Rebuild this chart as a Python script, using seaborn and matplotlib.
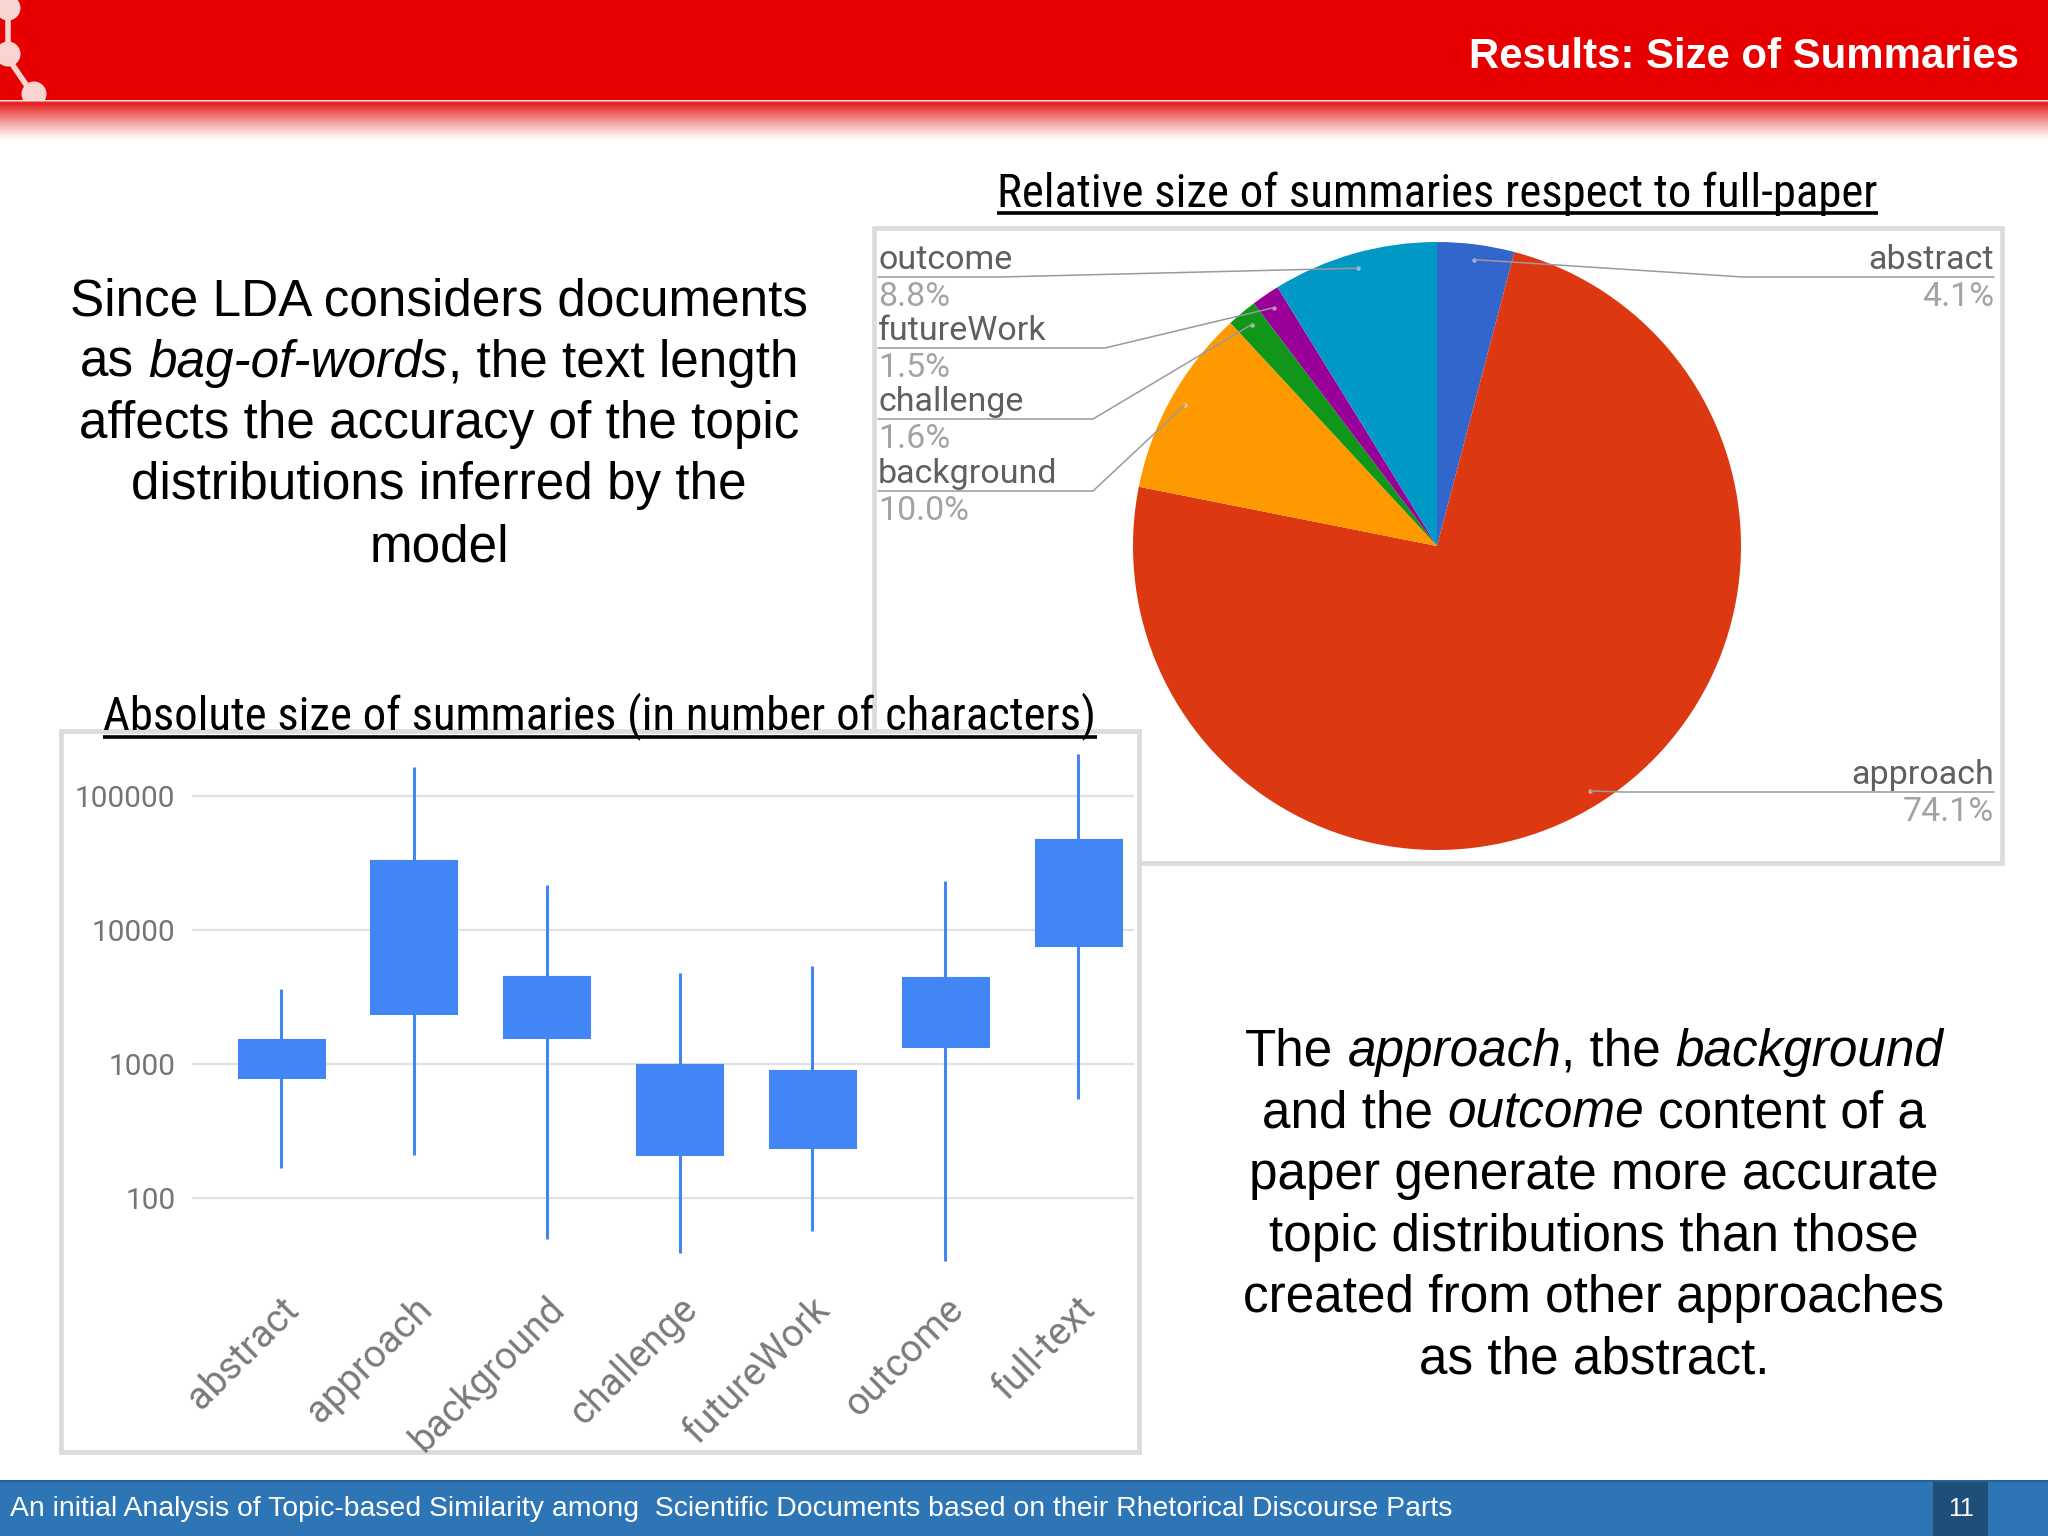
import numpy as np
import pandas as pd
import matplotlib
matplotlib.use("Agg")
import matplotlib.pyplot as plt
import seaborn as sns
from matplotlib import font_manager as fm
from matplotlib.patches import Rectangle, Circle
from matplotlib.ticker import NullLocator
from matplotlib.transforms import ScaledTranslation

# ---------------- data ----------------
box_categories = ["abstract", "approach", "background", "challenge", "futureWork", "outcome", "full-text"]
box_low = [166, 209, 49, 39, 57, 34, 543]
box_lower = [796, 2400, 1600, 212, 238, 1370, 7740]
box_upper = [1520, 32500, 4450, 981, 891, 4360, 47100]
box_high = [3630, 165000, 21500, 4760, 5420, 23100, 207000]
y_tick_values = [100, 1000, 10000, 100000]
y_tick_labels = ["100", "1000", "10000", "100000"]

pie_labels = ["abstract", "approach", "background", "challenge", "futureWork", "outcome"]
pie_values = [4.1, 74.1, 10.0, 1.6, 1.5, 8.8]
pie_pct_labels = ["4.1%", "74.1%", "10.0%", "1.6%", "1.5%", "8.8%"]
pie_colors = ["#3366CC", "#DC3912", "#FF9900", "#109618", "#990099", "#0099C6"]

header_title = "Results: Size of Summaries"
pie_title = "Relative size of summaries respect to full-paper"
box_title = "Absolute size of summaries (in number of characters)"
left_lines = [
    [("Since LDA considers documents", "normal")],
    [("as ", "normal"), ("bag-of-words", "italic"), (", the text length", "normal")],
    [("affects the accuracy of the topic", "normal")],
    [("distributions inferred by the", "normal")],
    [("model", "normal")],
]
right_lines = [
    [("The ", "normal"), ("approach", "italic"), (", the ", "normal"), ("background", "italic")],
    [("and the ", "normal"), ("outcome", "italic"), (" content of a", "normal")],
    [("paper generate more accurate", "normal")],
    [("topic distributions than those", "normal")],
    [("created from other approaches", "normal")],
    [("as the abstract.", "normal")],
]
footer_text = "An initial Analysis of Topic-based Similarity among  Scientific Documents based on their Rhetorical Discourse Parts"
page_number = "11"

# ---------------- setup ----------------
W, H, DPI = 2048, 1536, 100
sns.set_theme(style="white")
plt.rcParams["font.family"] = ["Liberation Sans", "DejaVu Sans"]
avail = {f.name for f in fm.fontManager.ttflist}
NARROW = next((n for n in ["Liberation Sans Narrow", "Arial Narrow", "Roboto Condensed"] if n in avail),
              "Liberation Sans")
BODY = "Liberation Sans"
CHART = "Roboto" if "Roboto" in avail else "Liberation Sans"

fig = plt.figure(figsize=(W / DPI, H / DPI), dpi=DPI)
fig.patch.set_facecolor("white")


def px_axes(l, t, r, b, **kw):
    return fig.add_axes([l / W, 1 - b / H, (r - l) / W, (b - t) / H], **kw)


bg = px_axes(0, 0, W, H, zorder=-5)
bg.set_axis_off()
bg.set_xlim(0, W)
bg.set_ylim(H, 0)
fg = px_axes(0, 0, W, H, zorder=5)
fg.set_axis_off()
fg.set_xlim(0, W)
fg.set_ylim(H, 0)
renderer = fig.canvas.get_renderer()


def text_width(s, **kw):
    t = fg.text(0, 0, "|" + s + "|", **kw)
    w1 = t.get_window_extent(renderer).width
    t.remove()
    t = fg.text(0, 0, "||", **kw)
    w2 = t.get_window_extent(renderer).width
    t.remove()
    return w1 - w2


def fit(s, target, **kw):
    return 30 * target / text_width(s, fontsize=30, **kw)


# ---------------- header ----------------
hdr = Rectangle((0, 0), W, 100, facecolor="#E60000", edgecolor="none", zorder=1)
bg.add_patch(hdr)
grad = np.zeros((80, 1, 4))
grad[..., 0] = 0.90
grad[..., 1] = 0.06
grad[..., 2] = 0.06
grad[:, 0, 3] = np.linspace(1, 0, 80) ** 1.2
bg.imshow(grad, extent=(0, W, 141, 101), aspect="auto", zorder=1, interpolation="bilinear")
bg.plot([0, W], [100.5, 100.5], color="#F47C7C", lw=1.0, zorder=2)
logo_col = "#F8D5D0"
for (cx, cy) in [(8, 8), (8, 54), (34, 94)]:
    c = Circle((cx, cy), 12.5, facecolor=logo_col, edgecolor="none", zorder=3)
    bg.add_patch(c)
    c.set_clip_path(hdr)
bg.plot([8, 8], [18, 44], color=logo_col, lw=4, zorder=3, solid_capstyle="butt")
bg.plot([12, 27], [64, 86], color=logo_col, lw=4, zorder=3, solid_capstyle="butt")
fs = fit(header_title, 552, family=BODY, fontweight="bold")
fg.text(2019, 68, header_title, fontsize=fs, family=BODY, fontweight="bold", color="white",
        ha="right", va="baseline")

# ---------------- footer ----------------
bg.add_patch(Rectangle((0, 1480), W, 56, facecolor="#2E75B6", edgecolor="none", zorder=1))
bg.plot([0, W], [1480.5, 1480.5], color="#235F98", lw=1.2, zorder=2)
bg.add_patch(Rectangle((1933, 1482), 55, 54, facecolor="#1F4E79", edgecolor="none", zorder=2))
fs = fit(footer_text, 1441, family=BODY)
fg.text(10, 1509, footer_text, fontsize=fs, family=BODY, color="white", ha="left", va="center")
fg.text(1961, 1509, page_number, fontsize=18, family=BODY, color="white", ha="center", va="center")

# ---------------- panels ----------------
bg.add_patch(Rectangle((874, 228), 2002 - 874, 863 - 228, facecolor="white", edgecolor="#DCDCDC",
                       lw=3.4, zorder=3))
bg.add_patch(Rectangle((61, 731), 1139 - 61, 1452 - 731, facecolor="white", edgecolor="#DCDCDC",
                       lw=3.4, zorder=4))

# ---------------- titles ----------------
for text, x0, base, target, ul in [(pie_title, 997, 207, 881, 213), (box_title, 103, 729, 994, 737)]:
    fs = fit(text, target, family=NARROW)
    fg.text(x0, base, text, fontsize=fs, family=NARROW, color="black", ha="left", va="baseline")
    fg.plot([x0, x0 + target], [ul, ul], color="black", lw=2.6, solid_capstyle="butt")


# ---------------- body text ----------------
def rich_line(pieces, cx, base, size):
    ws = [text_width(s, fontsize=size, fontstyle=st, family=BODY) for s, st in pieces]
    x = cx - sum(ws) / 2
    for (s, st), w in zip(pieces, ws):
        lead = len(s) - len(s.lstrip(" "))
        xoff = text_width(" " * lead, fontsize=size, fontstyle=st, family=BODY) if lead else 0
        fg.text(x + xoff, base, s.strip(" "), fontsize=size, fontstyle=st, family=BODY,
                color="black", ha="left", va="baseline")
        x += w


body_size = fit("Since LDA considers documents", 737, family=BODY)
for i, pieces in enumerate(left_lines):
    rich_line(pieces, 439, 315 + 61.5 * i, body_size)
for i, pieces in enumerate(right_lines):
    rich_line(pieces, 1594, 1066 + 61.6 * i, body_size)

# ---------------- box (candlestick) chart ----------------
rows = []
for c, lo, q1, q3, hi in zip(box_categories, box_low, box_lower, box_upper, box_high):
    for v in (lo, q1, q3, q3, hi):
        rows.append({"section": c, "chars": v})
box_df = pd.DataFrame(rows)

BLUE = "#4285F4"
axb = px_axes(192, 745, 1134, 1280, zorder=1)
sns.boxplot(data=box_df, x="section", y="chars", order=box_categories, ax=axb, color=BLUE,
            linecolor=BLUE, saturation=1, width=0.64, linewidth=2.2, whis=(0, 100),
            showcaps=False, showfliers=False, log_scale=True)
axb.set_facecolor("none")
axb.set_ylim(24.4, 240000)
axb.set_xlim(-0.67, 6.42)
axb.set_yticks(y_tick_values, y_tick_labels)
axb.yaxis.set_minor_locator(NullLocator())
axb.grid(axis="y", color="#E2E2E2", linewidth=1.6)
axb.grid(axis="x", visible=False)
axb.set_axisbelow(True)
for s in axb.spines.values():
    s.set_visible(False)
axb.set_xlabel("")
axb.set_ylabel("")
axb.tick_params(axis="y", length=0, pad=12, labelsize=21.5, labelcolor="#757575", labelfontfamily=CHART)
axb.tick_params(axis="x", length=0, pad=17, labelsize=27.5, labelcolor="#7A7A7A", labelfontfamily=CHART)
axb.set_xticks(range(len(box_categories)), box_categories, rotation=45, ha="right", va="center",
               rotation_mode="anchor")
off = ScaledTranslation(12 / DPI, 0, fig.dpi_scale_trans)
for lbl in axb.get_xticklabels():
    lbl.set_transform(lbl.get_transform() + off)

# ---------------- pie chart ----------------
PCX, PCY, PR = 1437, 546, 304
axp = px_axes(PCX - PR, PCY - PR, PCX + PR, PCY + PR, zorder=1)
axp.pie(pie_values, colors=pie_colors, startangle=90, counterclock=False, radius=1,
        wedgeprops={"linewidth": 0})
axp.set_xlim(-1, 1)
axp.set_ylim(-1, 1)
axp.set_aspect("equal")
vals = np.array(pie_values)
mid = np.deg2rad(360 * (np.cumsum(vals) - vals / 2) / vals.sum())
dx, dy = 0.95 * np.sin(mid), 0.95 * np.cos(mid)
axp.scatter(dx, dy, s=10, color="white", alpha=0.55, linewidths=0, zorder=5)

label_layout = {
    "abstract": ("right", 277, 1743),
    "approach": ("right", 792, 1623),
    "background": ("left", 491, 1093),
    "challenge": ("left", 419, 1093),
    "futureWork": ("left", 348, 1105),
    "outcome": ("left", 277, 1000),
}
for name, pct, ddx, ddy in zip(pie_labels, pie_pct_labels, dx, dy):
    side, uy, elbow = label_layout[name]
    x0 = 878 if side == "left" else 1994
    ha = "left" if side == "left" else "right"
    fg.text(x0, uy - 8, name, fontsize=24.5, family=CHART, color="#5F5F5F", ha=ha, va="baseline")
    fg.text(x0, uy + 29, pct, fontsize=24.5, family=CHART, color="#A3A3A3", ha=ha, va="baseline")
    px, py = PCX + PR * ddx, PCY - PR * ddy
    fg.plot([x0, elbow, px], [uy, uy, py], color="#9A9A9A", lw=1.1, zorder=3)

fg.set_xlim(0, W)
fg.set_ylim(H, 0)
bg.set_xlim(0, W)
bg.set_ylim(H, 0)
fig.savefig("out.png", dpi=DPI, facecolor="white")
